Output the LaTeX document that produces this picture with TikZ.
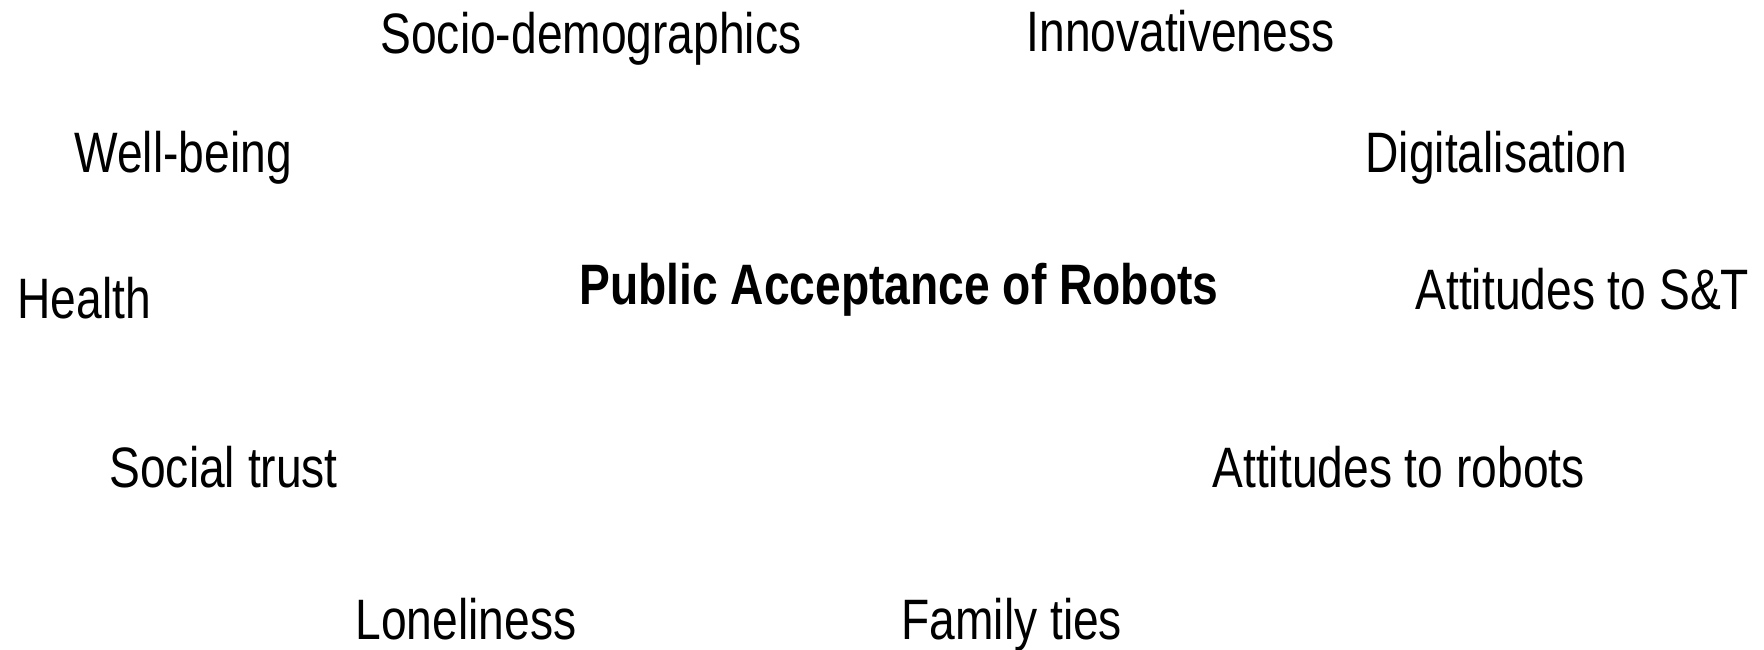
\documentclass[tikz,border=0pt]{standalone}
\usepackage{fontspec}
\setmainfont[FakeStretch=0.81]{Liberation Sans}
\usepackage{tikz}

\tikzset{
	factor/.style = {anchor=base west, inner sep=0pt, font=\fontsize{22.8}{26}\selectfont},
	core/.style = {factor, font=\fontsize{22.8}{26}\selectfont\bfseries}
}

\begin{document}
\begin{tikzpicture}[x=.4pt, y=-.4pt]
	\useasboundingbox (0,0) rectangle (1764,649);
	% central concept
	\node[core] (accept) at (579,304) {Public Acceptance of Robots};
	% surrounding factors
	\node[factor] (socio) at (380,53) {Socio-demographics};
	\node[factor] (innov) at (1026,51) {Innovativeness};
	\node[factor] (wellbeing) at (74,172) {Well-being};
	\node[factor] (digital) at (1365,172) {Digitalisation};
	\node[factor] (health) at (17,318) {Health};
	\node[factor] (attst) at (1415,309) {Attitudes to S\&T};
	\node[factor] (trust) at (109,487) {Social trust};
	\node[factor] (attrob) at (1212,487) {Attitudes to robots};
	\node[factor] (lonely) at (355,639) {Loneliness};
	\node[factor] (family) at (901,639) {Family ties};
\end{tikzpicture}
\end{document}
